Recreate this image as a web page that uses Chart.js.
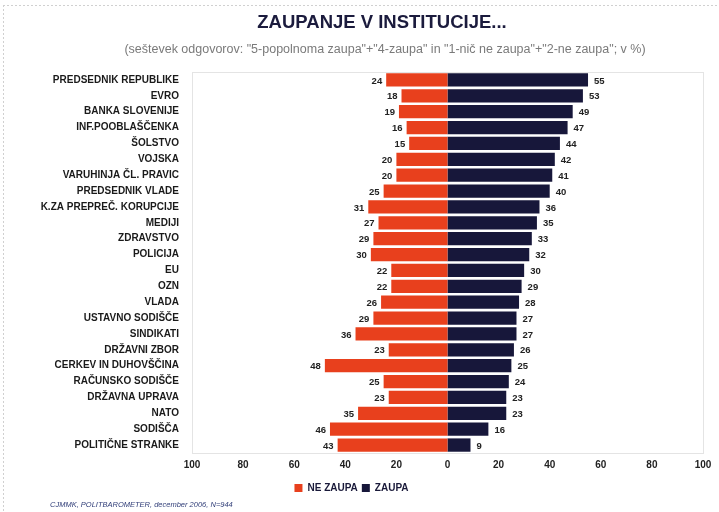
<!DOCTYPE html>
<html lang="sl">
<head>
<meta charset="UTF-8">
<title>Zaupanje v institucije</title>
<script src="https://cdn.jsdelivr.net/npm/chart.js"></script>
<style>
    html, body { margin: 0; padding: 0; background: #ffffff; }
    canvas { display: block; }
</style>
</head>
<body>
<canvas id="trustChart" width="719" height="512"></canvas>
<script>
// data
var institutions = [
    'PREDSEDNIK REPUBLIKE', 'EVRO', 'BANKA SLOVENIJE', 'INF.POOBLAŠČENKA', 'ŠOLSTVO',
    'VOJSKA', 'VARUHINJA ČL. PRAVIC', 'PREDSEDNIK VLADE', 'K.ZA PREPREČ. KORUPCIJE', 'MEDIJI',
    'ZDRAVSTVO', 'POLICIJA', 'EU', 'OZN', 'VLADA', 'USTAVNO SODIŠČE', 'SINDIKATI',
    'DRŽAVNI ZBOR', 'CERKEV IN DUHOVŠČINA', 'RAČUNSKO SODIŠČE', 'DRŽAVNA UPRAVA', 'NATO',
    'SODIŠČA', 'POLITIČNE STRANKE'
];
var neZaupa = [24, 18, 19, 16, 15, 20, 20, 25, 31, 27, 29, 30, 22, 22, 26, 29, 36, 23, 48, 25, 23, 35, 46, 43];
var zaupa   = [55, 53, 49, 47, 44, 42, 41, 40, 36, 35, 33, 32, 30, 29, 28, 27, 27, 26, 25, 24, 23, 23, 16, 9];
var xTicks = [-100, -80, -60, -40, -20, 0, 20, 40, 60, 80, 100];

var titleText = 'ZAUPANJE V INSTITUCIJE...';
var subtitleText = '(seštevek odgovorov: "5-popolnoma zaupa"+"4-zaupa" in "1-nič ne zaupa"+"2-ne zaupa"; v %)';
var footerText = 'CJMMK, POLITBAROMETER, december 2006, N=944';

var RED = '#e8401d';
var NAVY = '#17173a';
var FONT = '"Liberation Sans", Arial, sans-serif';

// title, frame, values and source note
var decorPlugin = {
    id: 'decor',
    beforeDatasetsDraw: function (chart) {
        var c = chart.ctx, a = chart.chartArea;
        c.save();
        c.strokeStyle = '#e4e4e4';
        c.lineWidth = 1;
        c.strokeRect(a.left + 0.5, a.top + 0.5, a.right - a.left, a.bottom - a.top);
        c.restore();
    },
    afterDraw: function (chart) {
        var c = chart.ctx;
        c.save();
        // faint paper edge
        c.strokeStyle = '#d0d0d0';
        c.setLineDash([2, 2]);
        c.beginPath();
        c.moveTo(3.5, 5); c.lineTo(3.5, 512);
        c.moveTo(3, 5.5); c.lineTo(719, 5.5);
        c.stroke();
        c.setLineDash([]);

        c.textAlign = 'center';
        c.textBaseline = 'middle';
        c.fillStyle = '#1b1b3d';
        c.font = 'bold 18.5px ' + FONT;
        c.fillText(titleText, 382, 23);
        c.fillStyle = '#7a7a7a';
        c.font = '12.5px ' + FONT;
        c.fillText(subtitleText, 385, 50);

        c.textAlign = 'left';
        c.fillStyle = '#33407a';
        c.font = 'italic 7.5px ' + FONT;
        c.fillText(footerText, 50, 505);

        // value labels
        c.font = 'bold 9.5px ' + FONT;
        c.fillStyle = '#222222';
        chart.getDatasetMeta(0).data.forEach(function (bar, i) {
            c.textAlign = 'right';
            c.fillText(neZaupa[i], bar.x - 4, bar.y + 1);
        });
        chart.getDatasetMeta(1).data.forEach(function (bar, i) {
            c.textAlign = 'left';
            c.fillText(zaupa[i], bar.x + 6, bar.y + 1);
        });
        c.restore();
    }
};

var ctx = document.getElementById('trustChart').getContext('2d');
var trustChart = new Chart(ctx, {
    type: 'bar',
    data: {
        labels: institutions,
        datasets: [{
            label: 'NE ZAUPA',
            data: neZaupa.map(function (v) { return -v; }),
            backgroundColor: RED
        }, {
            label: 'ZAUPA',
            data: zaupa,
            backgroundColor: NAVY
        }]
    },
    options: {
        indexAxis: 'y',
        responsive: false,
        animation: false,
        categoryPercentage: 0.84,
        barPercentage: 1,
        layout: { padding: { top: 72, right: 16, bottom: 9, left: 0 } },
        scales: {
            x: {
                stacked: true,
                min: -100,
                max: 100,
                afterBuildTicks: function (scale) {
                    scale.ticks = xTicks.map(function (v) { return { value: v }; });
                },
                afterFit: function (scale) { scale.height = 26; },
                grid: { display: false, drawTicks: false },
                border: { display: false },
                ticks: {
                    padding: 6,
                    color: '#222222',
                    font: { family: FONT, size: 10, weight: 'bold' },
                    callback: function (v) { return Math.abs(v); }
                }
            },
            y: {
                stacked: true,
                afterFit: function (scale) { scale.width = 192; },
                grid: { display: false, drawTicks: false },
                border: { display: false },
                ticks: {
                    padding: 13,
                    autoSkip: false,
                    color: '#1a1a1a',
                    font: { family: FONT, size: 10, weight: 'bold' }
                }
            }
        },
        plugins: {
            legend: {
                position: 'bottom',
                labels: {
                    boxWidth: 8,
                    boxHeight: 8,
                    padding: 4,
                    color: '#1a1a3a',
                    font: { family: FONT, size: 10, weight: 'bold' }
                }
            },
            tooltip: { enabled: false }
        }
    },
    plugins: [decorPlugin]
});
</script>
</body>
</html>
